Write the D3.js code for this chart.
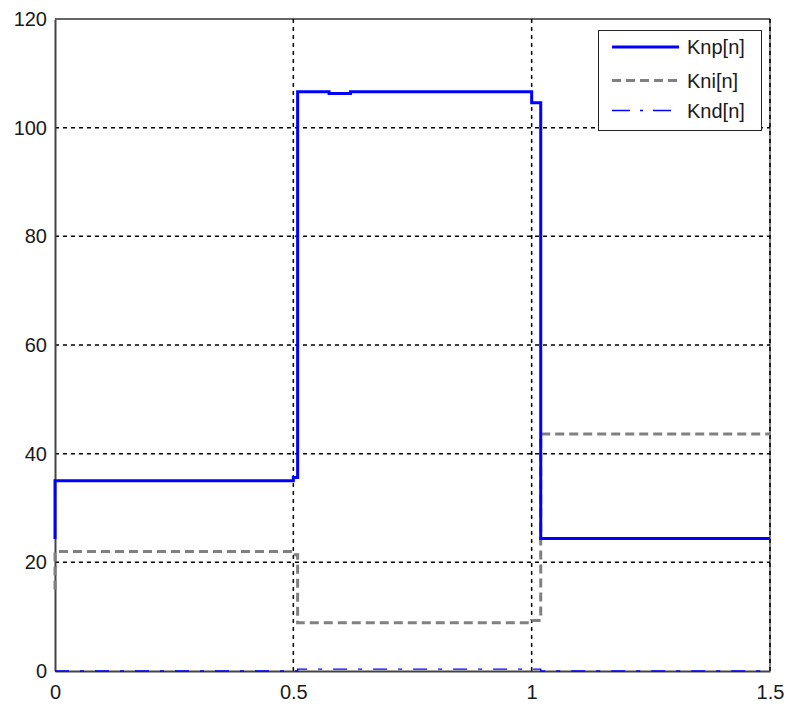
<!DOCTYPE html>
<html>
<head>
<meta charset="utf-8">
<script src="https://cdn.jsdelivr.net/npm/d3@7"></script>
<style>
  html, body { margin: 0; padding: 0; background: #fff; }
  svg { display: block; }
  text { font-family: "Liberation Sans", Arial, sans-serif; fill: #1a1a1a; }
</style>
</head>
<body>
<svg id="chart" width="790" height="708"></svg>
<script>
// Gain schedules (step signals) over time [s]
const knpTime  = [0, 0, 0.5, 0.509, 0.575, 0.62, 1.0, 1.019, 1.5];
const knpValue = [24.3, 35, 35.6, 106.6, 106.3, 106.6, 104.6, 24.4, 24.4];

const kniTime  = [0, 0, 0.5, 0.509, 1.0, 1.019, 1.5];
const kniValue = [15, 22, 21.4, 8.9, 9.3, 43.6, 43.6];

const kndTime  = [0, 0.509, 1.019, 1.5];
const kndValue = [0, 0.35, 0, 0];

const xTicks = [0, 0.5, 1, 1.5];
const xTickLabels = ["0", "0.5", "1", "1.5"];
const yTicks = [0, 20, 40, 60, 80, 100, 120];
const yTickLabels = ["0", "20", "40", "60", "80", "100", "120"];

const seriesNames = ["Knp[n]", "Kni[n]", "Knd[n]"];

const margin = { left: 55, top: 19, right: 20, bottom: 37 };
const W = 790, H = 708;
const svg = d3.select("#chart");

const x = d3.scaleLinear().domain([0, 1.5]).range([margin.left, W - margin.right]);
const y = d3.scaleLinear().domain([0, 120]).range([H - margin.bottom, margin.top]);

const styles = [
  { color: "#0000ff", width: 3, dash: null },
  { color: "#808080", width: 3, dash: "9,5" },
  { color: "#0000ff", width: 1.3, dash: "14,11,4,11" }
];

// box
svg.append("line").attr("x1", x(0)).attr("x2", x(1.5)).attr("y1", y(120)).attr("y2", y(120))
  .attr("stroke", "#333").attr("stroke-width", 1.5);
svg.append("line").attr("x1", x(1.5)).attr("x2", x(1.5)).attr("y1", y(0)).attr("y2", y(120))
  .attr("stroke", "#333").attr("stroke-width", 1.2);

// grid
const grid = svg.append("g");
grid.selectAll("line.gx").data(xTicks.slice(1)).join("line")
  .attr("x1", d => x(d)).attr("x2", d => x(d))
  .attr("y1", y(0)).attr("y2", y(120))
  .attr("stroke", "#000").attr("stroke-width", 1.5).attr("stroke-dasharray", "4,4");
grid.selectAll("line.gy").data(yTicks.slice(1, -1)).join("line")
  .attr("x1", x(0)).attr("x2", x(1.5))
  .attr("y1", d => y(d)).attr("y2", d => y(d))
  .attr("stroke", "#000").attr("stroke-width", 1.5).attr("stroke-dasharray", "4,4");

// axes
const xAxis = d3.axisBottom(x).tickValues(xTicks).tickFormat((d, i) => xTickLabels[i]).tickSize(0).tickPadding(14);
const yAxis = d3.axisLeft(y).tickValues(yTicks).tickFormat((d, i) => yTickLabels[i]).tickSize(0).tickPadding(8);

const gx = svg.append("g").attr("transform", `translate(0,${y(0)})`).call(xAxis);
const gy = svg.append("g").attr("transform", `translate(${x(0)},0)`).call(yAxis);
[gx, gy].forEach(g => {
  g.select(".domain").attr("stroke", "#444").attr("stroke-width", 2);
  g.selectAll("text").style("font-size", "20px").attr("fill", "#1a1a1a");
});

// series
const line = d3.line().x(d => x(d[0])).y(d => y(d[1])).curve(d3.curveStepAfter);
const data = [
  d3.zip(knpTime, knpValue),
  d3.zip(kniTime, kniValue),
  d3.zip(kndTime, kndValue)
];
const order = [2, 1, 0];
order.forEach(i => {
  svg.append("path").datum(data[i]).attr("d", line)
    .attr("fill", "none").attr("stroke", styles[i].color)
    .attr("stroke-width", styles[i].width)
    .attr("stroke-dasharray", styles[i].dash);
});

// legend
const lg = svg.append("g");
lg.append("rect").attr("x", 598.5).attr("y", 30.5).attr("width", 163).attr("height", 100)
  .attr("fill", "#fff").attr("stroke", "#222").attr("stroke-width", 1);
const rowY = [47, 80.5, 110.5];
seriesNames.forEach((name, i) => {
  lg.append("line").attr("x1", 612).attr("x2", 679).attr("y1", rowY[i]).attr("y2", rowY[i])
    .attr("stroke", styles[i].color).attr("stroke-width", styles[i].width)
    .attr("stroke-dasharray", i === 1 ? "9,5" : (i === 2 ? "18,10,3,10" : null));
  lg.append("text").attr("x", 687).attr("y", rowY[i]).attr("dy", "0.35em")
    .style("font-size", "20px").text(name);
});
</script>
</body>
</html>
